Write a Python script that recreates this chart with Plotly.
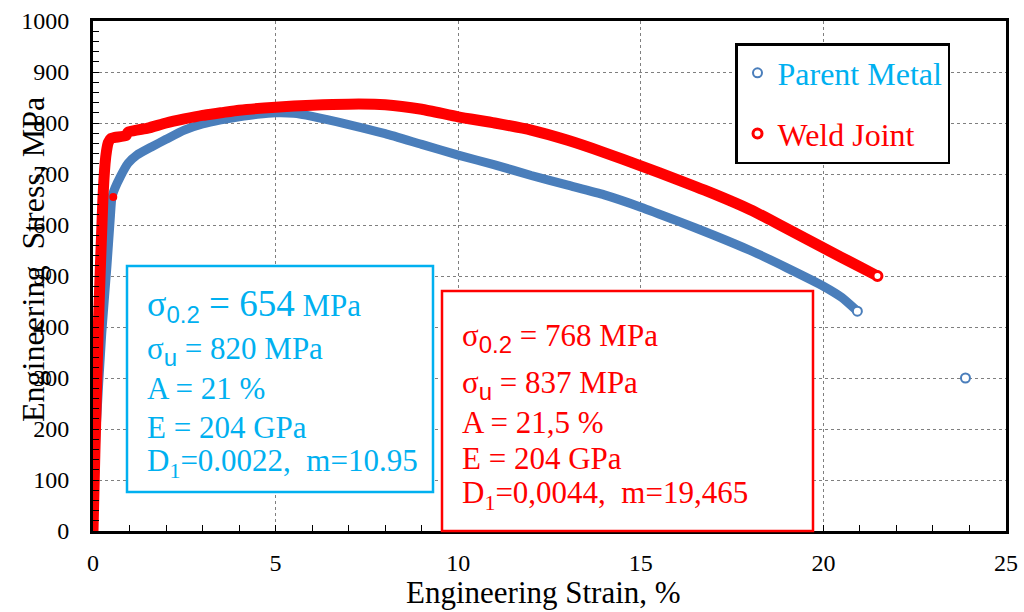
import plotly.graph_objects as go

# ---------------- data ----------------
parent_strain = [0, 0.08, 0.24, 0.38, 0.47, 0.52, 0.6, 0.75, 0.96, 1.2, 1.6, 2.0, 2.5, 3.0,
                 3.5, 4.0, 4.5, 5.0, 5.5, 6.0, 7.0, 8.0, 9.0, 10, 11, 12, 13, 14, 15, 16,
                 17, 18, 19, 20, 20.5, 20.93]
parent_stress = [0, 192, 388, 518, 610, 655, 672, 695, 721, 737, 753, 768, 786, 798,
                 806, 812, 817, 820, 819, 813, 797, 779, 758, 737, 718, 697, 678, 659, 635, 608,
                 580, 550, 516, 480, 458, 431]

weld_strain = [0, 0.05, 0.14, 0.27, 0.33, 0.37, 0.42, 0.5, 0.6, 0.9, 0.96, 1.5, 2.0, 2.5,
               3.0, 3.5, 4.0, 5.0, 6.0, 7.0, 8.0, 9.0, 10, 11, 12, 13, 14, 15, 16, 17,
               18, 18.55, 19, 20, 21, 21.48]
weld_stress = [0, 150, 388, 649, 720, 745, 762, 770, 772, 775, 782, 790, 800, 808,
               815, 820, 825, 831, 835, 837, 836, 827, 812, 800, 786, 766, 742, 716, 689, 661,
               630, 610, 593, 555, 518, 500]

parent_extra_strain = [23.89]
parent_extra_stress = [300]
weld_extra_strain = [0.555]
weld_extra_stress = [655]

x_ticks = [0, 5, 10, 15, 20, 25]
y_ticks = [0, 100, 200, 300, 400, 500, 600, 700, 800, 900, 1000]

BLUE = "#4A7EBB"
CYAN = "#00B0F0"
RED = "#FF0000"
SERIF = "Liberation Serif"
SANS = "Liberation Sans"

# plot area in pixels
X0, X1, Y0, Y1 = 93, 1006, 531, 21


def px(x):
    return (x - X0) / (X1 - X0)


def py(y):
    return (Y0 - y) / (Y0 - Y1)


fig = go.Figure()

fig.add_trace(go.Scatter(x=parent_strain, y=parent_stress, mode="lines",
                         line=dict(color=BLUE, width=9, shape="spline", smoothing=0.5),
                         showlegend=False, hoverinfo="skip"))
fig.add_trace(go.Scatter(x=weld_strain, y=weld_stress, mode="lines",
                         line=dict(color=RED, width=11, shape="spline", smoothing=0.5),
                         showlegend=False, hoverinfo="skip"))
fig.add_trace(go.Scatter(x=weld_extra_strain, y=weld_extra_stress, mode="markers",
                         marker=dict(color=RED, size=8), showlegend=False,
                         hoverinfo="skip"))
fig.add_trace(go.Scatter(x=[parent_strain[-1]] + parent_extra_strain,
                         y=[parent_stress[-1]] + parent_extra_stress,
                         mode="markers", name=f'<span style="color:{CYAN}">Parent Metal</span>',
                         legendgroup="p",
                         marker=dict(symbol="circle", size=9, color="white",
                                     line=dict(color=BLUE, width=2))))
fig.add_trace(go.Scatter(x=[weld_strain[-1]], y=[weld_stress[-1]],
                         mode="markers", name=f'<span style="color:{RED}">Weld Joint</span>',
                         legendgroup="w",
                         marker=dict(symbol="circle", size=9, color="white",
                                     line=dict(color=RED, width=3))))

axis_common = dict(
    showline=True, linecolor="black", linewidth=3, mirror=True,
    ticks="inside", ticklen=6, tickwidth=1, tickcolor="black",
    showgrid=True, gridcolor="#7f7f7f", gridwidth=1, griddash="dot",
    zeroline=False, automargin=False,
    tickfont=dict(family=SERIF, size=24, color="black"),
)

fig.update_xaxes(range=[0, 25], tickvals=x_ticks, ticktext=[str(v) for v in x_ticks],
                 minor=dict(dtick=1, ticks="inside", ticklen=6, tickcolor="black", showgrid=False),
                 ticklabelstandoff=8, **axis_common)
fig.update_yaxes(range=[0, 1000], tickvals=y_ticks, ticktext=[str(v) for v in y_ticks],
                 minor=dict(dtick=20, ticks="inside", ticklen=6, tickcolor="black", showgrid=False),
                 ticklabelstandoff=16, **axis_common)

shapes = [
    dict(type="rect", xref="paper", yref="paper", x0=px(127), x1=px(433), y0=py(492), y1=py(266),
         line=dict(color=CYAN, width=2.5), fillcolor="white", layer="above"),
    dict(type="rect", xref="paper", yref="paper", x0=px(442), x1=px(813), y0=py(531), y1=py(291),
         line=dict(color=RED, width=2.5), fillcolor="white", layer="above"),
]

sub = lambda t, fam=SANS, size=24: f'<sub><span style="font-family:{fam};font-size:{size}px">{t}</span></sub>'

blue_lines = [
    ('<span style="font-size:36px">σ</span>' + sub("0.2") + '<span style="font-size:37px"> = 654</span> MPa', 315),
    ('σ' + sub("u") + ' = 820 MPa', 361),
    ('A = 21 %', 398),
    ('E = 204 GPa', 437),
    ('D' + sub("1", SERIF, 22) + '=0.0022,  m=10.95', 473),
]
red_lines = [
    ('σ' + sub("0.2") + ' = 768 MPa', 348),
    ('σ' + sub("u") + ' = 837 MPa', 395),
    ('A = 21,5 %', 432),
    ('E = 204 GPa', 468),
    ('D' + sub("1", SERIF, 22) + '=0,0044,  m=19,465', 505),
]

annotations = []
for text, base in blue_lines:
    annotations.append(dict(text=text, xref="paper", yref="paper", x=px(145), y=py(base - 10),
                            xanchor="left", yanchor="middle", showarrow=False,
                            font=dict(family=SERIF, size=31, color=CYAN)))
for text, base in red_lines:
    annotations.append(dict(text=text, xref="paper", yref="paper", x=px(460), y=py(base - 10),
                            xanchor="left", yanchor="middle", showarrow=False,
                            font=dict(family=SERIF, size=31, color=RED)))

annotations.append(dict(text="Engineering Strain, %", xref="paper", yref="paper",
                        x=px(543), y=py(592), xanchor="center", yanchor="middle",
                        showarrow=False, font=dict(family=SERIF, size=31, color="black")))
annotations.append(dict(text="Engineering  Stress, MPa", xref="paper", yref="paper",
                        x=px(33), y=py(260), xanchor="center", yanchor="middle", textangle=-90,
                        showarrow=False, font=dict(family=SERIF, size=32, color="black")))

fig.update_layout(
    width=1024, height=612,
    margin=dict(l=X0, r=1024 - X1, t=Y1, b=612 - Y0, autoexpand=False),
    paper_bgcolor="white", plot_bgcolor="white",
    font=dict(family=SERIF),
    shapes=shapes, annotations=annotations,
    legend=dict(x=px(735), y=py(43), xanchor="left", yanchor="top",
                bgcolor="white", bordercolor="black", borderwidth=2.5,
                font=dict(family=SERIF, size=32), tracegroupgap=16,
                traceorder="grouped", itemwidth=30),
)

fig.write_html("out.html")
